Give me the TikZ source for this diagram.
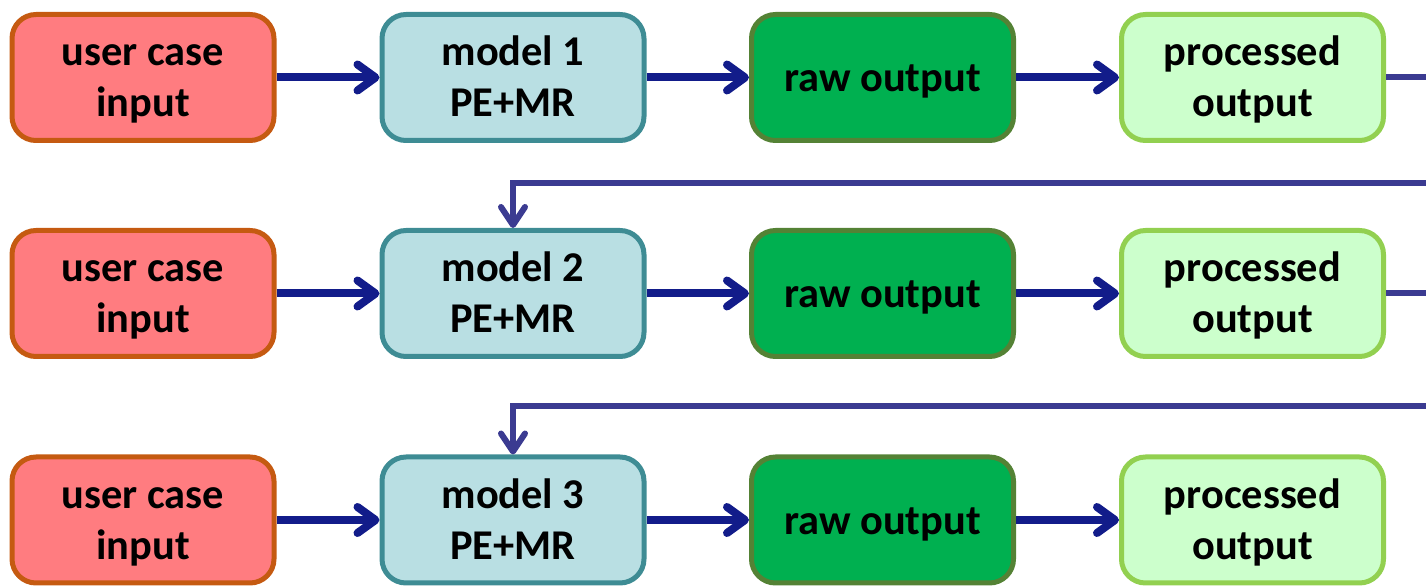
\documentclass[tikz,border=0pt]{standalone}
\usepackage{fontspec}
\setmainfont{Carlito}
\usetikzlibrary{arrows.meta}

\definecolor{inFill}{RGB}{255,124,128}
\definecolor{inLine}{RGB}{197,90,17}
\definecolor{mdFill}{RGB}{185,223,227}
\definecolor{mdLine}{RGB}{62,140,148}
\definecolor{rawFill}{RGB}{0,176,80}
\definecolor{rawLine}{RGB}{84,130,53}
\definecolor{prFill}{RGB}{204,255,204}
\definecolor{prLine}{RGB}{146,208,80}
\definecolor{flowBlue}{RGB}{18,28,138}
\definecolor{backBlue}{RGB}{59,59,145}

\tikzset{
  box/.style={rounded corners=12pt, line width=2.5pt, minimum width=131pt,
    minimum height=63pt, inner sep=0pt, align=center,
    font=\bfseries\fontsize{21.2}{25.5}\selectfont},
  % two-line labels: the box baseline is the second line, below the centre
  twoline/.style={text height=44.5pt, text depth=5pt},
  % one-line labels: baseline a little below the centre
  oneline/.style={text height=18pt, text depth=3.5pt},
  inbox/.style={box, twoline, draw=inLine, fill=inFill},
  mdbox/.style={box, twoline, draw=mdLine, fill=mdFill},
  rawbox/.style={box, oneline, draw=rawLine, fill=rawFill},
  prbox/.style={box, twoline, draw=prLine, fill=prFill},
  flow/.style={draw=flowBlue, line width=4pt,
    -{Straight Barb[length=9pt,width=13pt,round]}},
  back/.style={draw=backBlue, line width=3pt},
  backarrow/.style={back, -{Straight Barb[length=9pt,width=12pt,round]}},
}

\begin{document}
\begin{tikzpicture}[x=0.5pt, y=-0.5pt]
  \path[use as bounding box] (0,0) rectangle (1426,587);
  \clip (0,0) rectangle (1426,587);

  % three pipelines, one per model
  \foreach \r/\y in {1/77.5, 2/293.5, 3/520} {
    \node[inbox]  (u\r) at (143,\y)    {user case\\input};
    \node[mdbox]  (m\r) at (513,\y)    {model \r\\PE+MR};
    \node[rawbox] (o\r) at (882.5,\y)  {raw output};
    \node[prbox]  (p\r) at (1252.5,\y) {processed\\output};
    \draw[flow] (u\r) -- (m\r);
    \draw[flow] (m\r) -- (o\r);
    \draw[flow] (o\r) -- (p\r);
  }

  % feedback from each processed output into the next model
  \coordinate (e1) at (1440,77.5);
  \coordinate (e2) at (1440,293.5);
  \coordinate (f2) at (1440,183);
  \coordinate (f3) at (1440,406);
  \draw[back] (p1.east) -- (e1);
  \draw[back] (p2.east) -- (e2);
  \draw[backarrow] (f2) -- (m2.north |- f2) -- (m2.north);
  \draw[backarrow] (f3) -- (m3.north |- f3) -- (m3.north);
\end{tikzpicture}
\end{document}
